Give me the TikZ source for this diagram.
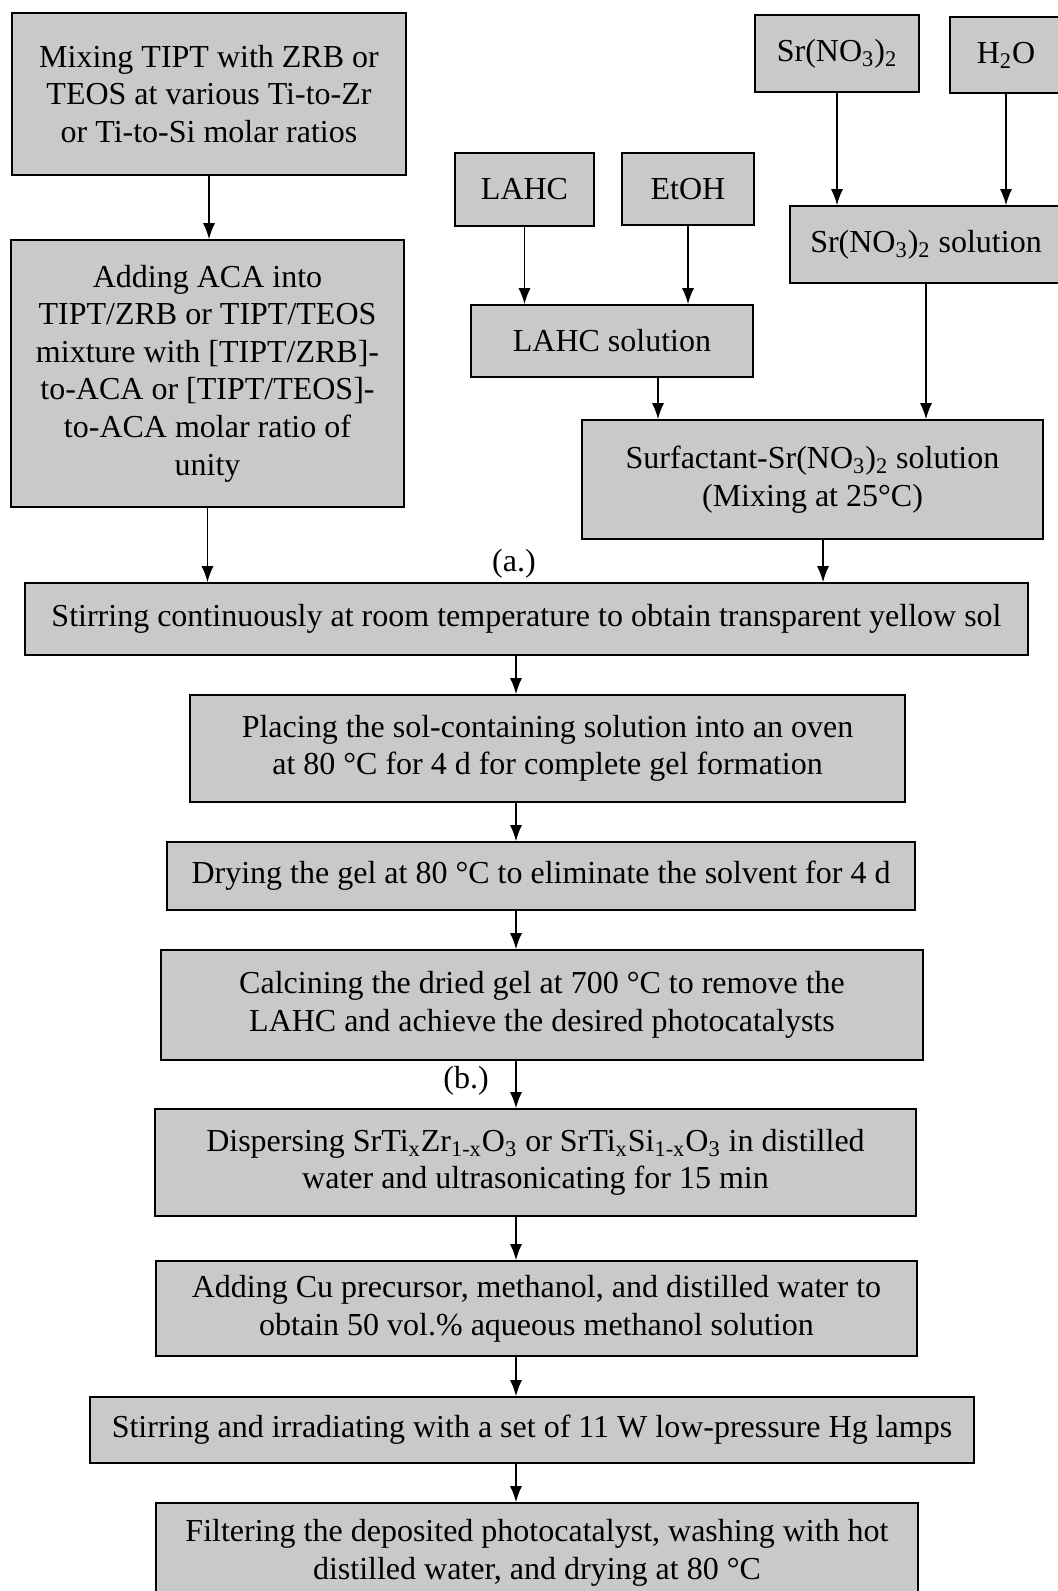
\documentclass[tikz,border=0pt]{standalone}
\usepackage{fontspec}
\setmainfont{Liberation Serif}
\usetikzlibrary{arrows.meta}
\definecolor{boxgray}{RGB}{201,201,201}
\tikzset{
  stage/.style={draw, line width=0.8pt, fill=boxgray, align=center, inner sep=2pt,
    font=\fontsize{16}{18.8}\selectfont},
  flow/.style={-{Latex[length=8pt,width=6pt]}, line width=0.75pt},
  tag/.style={inner sep=0pt, font=\fontsize{16}{18.8}\selectfont},
}

\begin{document}
\begin{tikzpicture}[x=0.5pt, y=-0.5pt]
  \fill[white] (0,0) rectangle (1057,1591);
  \useasboundingbox (0,0) rectangle (1057,1591);

  % Precursor branch (left)
  \node[stage, minimum width=197pt, minimum height=81pt] (mixing) at (209, 94)
    {Mixing TIPT with ZRB or\\TEOS at various Ti-to-Zr\\or Ti-to-Si molar ratios};
  \node[stage, minimum width=196.5pt, minimum height=133.5pt] (adding) at (207.5, 373.5)
    {Adding ACA into\\TIPT/ZRB or TIPT/TEOS\\mixture with [TIPT/ZRB]-\\to-ACA or [TIPT/TEOS]-\\to-ACA molar ratio of\\unity};

  % Surfactant branch (middle)
  \node[stage, minimum width=69.5pt, minimum height=36.5pt] (lahc) at (524.5, 189.5) {LAHC};
  \node[stage, minimum width=66pt, minimum height=36pt] (etoh) at (688, 189) {EtOH};
  \node[stage, minimum width=141pt, minimum height=36pt] (lahcsol) at (612, 341) {LAHC solution};

  % Strontium branch (right)
  \node[stage, minimum width=82pt, minimum height=38.5pt] (srno) at (837, 53.5)
    {Sr(NO\textsubscript{3})\textsubscript{2}};
  \node[stage, minimum width=56pt, minimum height=38pt] (water) at (1006, 55)
    {H\textsubscript{2}O};
  \node[stage, minimum width=136pt, minimum height=38.5pt] (srsol) at (926, 244.5)
    {Sr(NO\textsubscript{3})\textsubscript{2} solution};
  \node[stage, minimum width=230.5pt, minimum height=59.5pt] (surf) at (812.5, 479.5)
    {Surfactant-Sr(NO\textsubscript{3})\textsubscript{2} solution\\(Mixing at 25°C)};

  % Sol-gel steps
  \node[tag] (taga) at (514, 564) {(a.)};
  \node[stage, minimum width=501.5pt, minimum height=36pt] (stir) at (526.5, 619)
    {Stirring continuously at room temperature to obtain transparent yellow sol};
  \node[stage, minimum width=357.5pt, minimum height=53.5pt] (place) at (547.5, 748.5)
    {Placing the sol-containing solution into an oven\\at 80 °C for 4 d for complete gel formation};
  \node[stage, minimum width=374pt, minimum height=34pt] (dry) at (541, 876)
    {Drying the gel at 80 °C to eliminate the solvent for 4 d};
  \node[stage, minimum width=381pt, minimum height=55pt] (calc) at (542, 1005)
    {Calcining the dried gel at 700 °C to remove the\\LAHC and achieve the desired photocatalysts};

  % Photodeposition steps
  \node[tag] (tagb) at (466, 1081) {(b.)};
  \node[stage, minimum width=380.5pt, minimum height=53.5pt] (disp) at (535.5, 1162.5)
    {Dispersing SrTi\textsubscript{x}Zr\textsubscript{1-x}O\textsubscript{3} or SrTi\textsubscript{x}Si\textsubscript{1-x}O\textsubscript{3} in distilled\\water and ultrasonicating for 15 min};
  \node[stage, minimum width=380.5pt, minimum height=47.5pt] (addcu) at (536.5, 1308.5)
    {Adding Cu precursor, methanol, and distilled water to\\obtain 50 vol.\% aqueous methanol solution};
  \node[stage, minimum width=442pt, minimum height=33pt] (irr) at (532, 1430)
    {Stirring and irradiating with a set of 11 W low-pressure Hg lamps};
  \node[stage, minimum width=381pt, minimum height=50pt] (filt) at (537, 1553)
    {Filtering the deposited photocatalyst, washing with hot\\distilled water, and drying at 80 °C};

  % Arrow lanes
  \coordinate (spine) at (516, 0);
  \coordinate (lahclane) at (658, 0);
  \coordinate (surflane) at (823, 0);

  \draw[flow] (mixing) -- (mixing |- adding.north);
  \draw[flow] (lahc) -- (lahc |- lahcsol.north);
  \draw[flow] (etoh) -- (etoh |- lahcsol.north);
  \draw[flow] (srno) -- (srno |- srsol.north);
  \draw[flow] (water) -- (water |- srsol.north);
  \draw[flow] (lahcsol.south -| lahclane) -- (surf.north -| lahclane);
  \draw[flow] (srsol) -- (srsol |- surf.north);
  \draw[flow] (adding) -- (adding |- stir.north);
  \draw[flow] (surf.south -| surflane) -- (stir.north -| surflane);
  \foreach \a/\b in {stir/place, place/dry, dry/calc, calc/disp, disp/addcu, addcu/irr, irr/filt}
    \draw[flow] (\a.south -| spine) -- (\b.north -| spine);
\end{tikzpicture}
\end{document}
